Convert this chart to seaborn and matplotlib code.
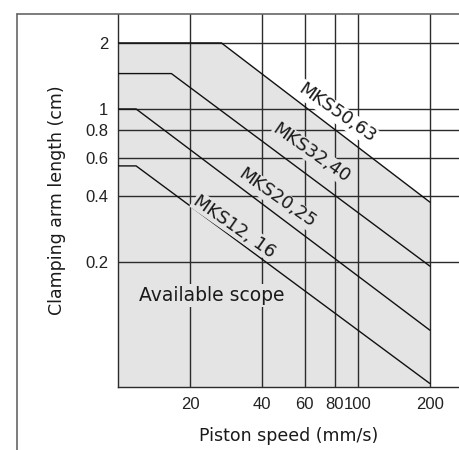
import numpy as np
import pandas as pd
import matplotlib
matplotlib.use("Agg")
import matplotlib.pyplot as plt
from matplotlib.lines import Line2D
import seaborn as sns

# Chart data
series = ["MKS50,63", "MKS32,40", "MKS20,25", "MKS12, 16"]
speed_start = [10, 10, 10, 10]
speed_kink = [27, 16.7, 11.9, 11.9]
speed_end = [200, 200, 200, 200]
length_max = [2.0, 1.45, 1.0, 0.55]
length_end = [0.376, 0.192, 0.098, 0.056]

x_ticks = [20, 40, 60, 80, 100, 200]
y_ticks = [0.2, 0.4, 0.6, 0.8, 1, 2]
y_tick_labels = ["0.2", "0.4", "0.6", "0.8", "1", "2"]

# label anchor points (speed, length)
label_x = [81.7, 64.2, 46.2, 30.6]
label_y = [0.96, 0.63, 0.392, 0.292]

FILL = "#e4e4e4"
GRID = "#2b2b2b"

rows = []
for name, x0, xk, x1, ym, ye in zip(series, speed_start, speed_kink, speed_end,
                                     length_max, length_end):
    rows += [(name, x0, ym), (name, xk, ym), (name, x1, ye)]
df = pd.DataFrame(rows, columns=["series", "speed", "length"])

sns.set_style("white")
plt.rcParams["font.family"] = ["DejaVu Sans"]

fig = plt.figure(figsize=(4.6, 4.5), dpi=100)
ax = fig.add_axes([118 / 460, 1 - 387 / 450, 1 - 118 / 460, (387 - 14) / 450])
ax.set_xscale("log")
ax.set_yscale("log")
ax.set_xlim(10, 267)
ax.set_ylim(0.054, 2.71)

# available scope (below the largest size curve)
big = df[df["series"] == series[0]]
ax.fill_between(big["speed"], big["length"], 0.01, color=FILL, lw=0, zorder=0)

# grid
for xv in x_ticks:
    ax.axvline(xv, color=GRID, lw=1.0, zorder=1)
for yv in y_ticks:
    ax.axhline(yv, color=GRID, lw=1.0, zorder=1)

sns.lineplot(data=df, x="speed", y="length", units="series", estimator=None,
             color="#111111", lw=1.0, sort=False, ax=ax, zorder=3)

for i, name in enumerate(series):
    bg = "white" if i == 0 else FILL
    ax.text(label_x[i], label_y[i], name, rotation=-35, ha="center", va="center",
            fontsize=13, color="#1a1a1a", rotation_mode="anchor", zorder=4,
            bbox=dict(facecolor=bg, edgecolor="none", pad=0.5))

ax.text(24.7, 0.141, "Available scope", ha="center", va="center", fontsize=13.5,
        color="#1a1a1a", zorder=4,
        bbox=dict(facecolor=FILL, edgecolor="none", pad=1.5))

ax.set_xticks(x_ticks)
ax.set_xticklabels([str(v) for v in x_ticks], family="Liberation Sans")
ax.set_yticks(y_ticks)
ax.set_yticklabels(y_tick_labels, family="Liberation Sans")
ax.xaxis.set_minor_locator(matplotlib.ticker.NullLocator())
ax.yaxis.set_minor_locator(matplotlib.ticker.NullLocator())
ax.tick_params(axis="both", length=0, labelsize=12, colors="#222222", pad=7)
ax.set_xlabel("Piston speed (mm/s)", fontsize=12.5, color="#1a1a1a", labelpad=11)
ax.set_ylabel("Clamping arm length (cm)", fontsize=12.5, color="#1a1a1a", labelpad=14)

for side in ["left", "bottom"]:
    ax.spines[side].set_color(GRID)
    ax.spines[side].set_linewidth(1.0)
ax.spines["right"].set_visible(False)
ax.spines["top"].set_visible(False)

# outer frame
fig.add_artist(Line2D([17 / 460, 17 / 460], [0, 1 - 14 / 450], color="#666666", lw=1.2))
fig.add_artist(Line2D([17 / 460, 1], [1 - 14 / 450, 1 - 14 / 450], color="#666666", lw=1.2))

fig.savefig("out.png", dpi=100)
